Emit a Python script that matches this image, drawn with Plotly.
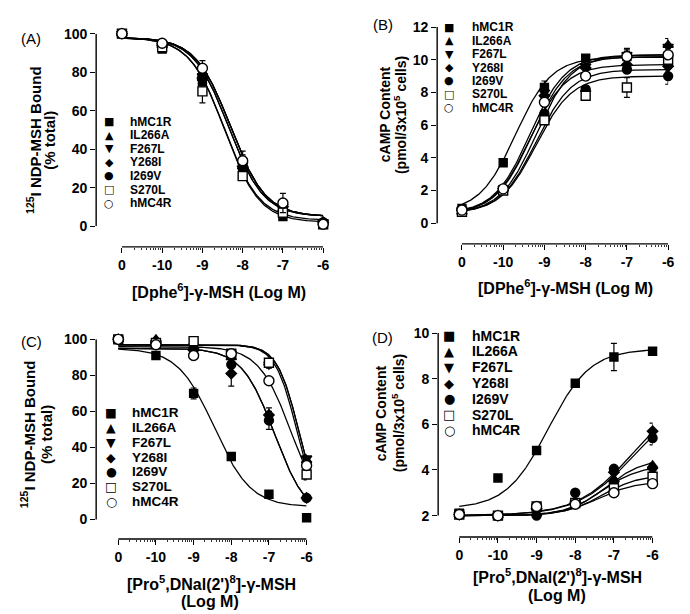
import numpy as np
import plotly.graph_objects as go

W, H = 690, 614

# ---------------- data ----------------
SERIES = ["hMC1R", "IL266A", "F267L", "Y268I", "I269V", "S270L", "hMC4R"]
LOG_CONC = [-11, -10, -9, -8, -7, -6]          # "0" plotted at the -11 slot
X_TICK_VALS = [-11, -10, -9, -8, -7, -6]
X_TICK_TEXT = ["0", "-10", "-9", "-8", "-7", "-6"]

# Panel A: 125I NDP-MSH bound (% total) vs [DPhe6]-gamma-MSH
A_VALUES = [
    [100, 92, 75, 30, 5, 1],
    [100, 94, 77, 31, 9, 2],
    [100, 94, 78, 32, 10, 2],
    [100, 94, 77, 31, 10, 2],
    [100, 94, 78, 31, 11, 2],
    [100, 93, 70, 26, 7, 1],
    [100, 95, 82, 34, 12, 1],
]
A_ERRORS = [
    [0, 1, 2, 2, 1, 0],
    [0, 0, 0, 0, 0, 0],
    [0, 0, 0, 5, 3, 0],
    [0, 0, 0, 0, 0, 0],
    [0, 0, 0, 0, 0, 0],
    [0, 0, 6, 0, 0, 0],
    [0, 1, 4, 5, 5, 0],
]
A_TOP = [98, 98, 98, 98, 98, 98, 98]
A_BOTTOM = [3, 5, 5, 5, 5, 2, 5]
A_LOGEC50 = [-8.45, -8.35, -8.3, -8.35, -8.3, -8.45, -8.3]
A_HILL = [-1.0, -1.0, -1.0, -1.0, -1.0, -1.0, -1.0]
A_YTICKS = [0, 20, 40, 60, 80, 100]

# Panel B: cAMP content vs [DPhe6]-gamma-MSH
B_VALUES = [
    [0.9, 3.7, 8.3, 10.1, 10.2, 10.2],
    [0.7, 2.1, 6.5, 8.2, 10.3, 10.9],
    [0.8, 2.1, 8.0, 9.6, 10.3, 10.8],
    [0.8, 2.1, 7.8, 9.5, 9.7, 9.6],
    [0.8, 2.1, 6.7, 8.2, 9.4, 9.0],
    [0.7, 2.0, 6.3, 7.8, 8.3, 10.0],
    [0.8, 2.1, 7.4, 9.0, 10.2, 10.3],
]
B_ERRORS = [
    [0, 0, 0.4, 0.1, 0.2, 0.3],
    [0, 0, 0, 0, 0.4, 0.4],
    [0, 0, 0.3, 0, 0.3, 0.5],
    [0, 0, 0, 0, 0, 0.3],
    [0, 0, 0, 0, 0, 0.5],
    [0, 0, 0, 0, 0.6, 0.4],
    [0, 0, 0, 0, 0.3, 0.3],
]
B_TOP = [10.15, 10.3, 10.3, 9.7, 9.4, 9.0, 10.2]
B_BOTTOM = [0.7, 0.6, 0.6, 0.6, 0.6, 0.6, 0.6]
B_LOGEC50 = [-9.7, -9.2, -9.35, -9.35, -9.2, -9.2, -9.3]
B_HILL = [1.0, 1.0, 1.0, 1.0, 1.0, 1.0, 1.0]
B_YTICKS = [0, 2, 4, 6, 8, 10, 12]

# Panel C: 125I NDP-MSH bound (% total) vs [Pro5,DNal(2')8]-gamma-MSH
C_VALUES = [
    [100, 91, 70, 35, 14, 1],
    [100, 100, 96, 90, 87, 33],
    [100, 98, 96, 92, 86, 34],
    [100, 98, 94, 81, 58, 12],
    [100, 98, 91, 86, 55, 12],
    [100, 98, 99, 92, 87, 25],
    [100, 97, 91, 92, 77, 30],
]
C_ERRORS = [
    [0, 1, 3, 1, 1, 0],
    [0, 0, 0, 0, 0, 2],
    [0, 0, 0, 0, 2, 2],
    [0, 0, 0, 7, 4, 0],
    [0, 0, 0, 0, 5, 0],
    [0, 0, 0, 0, 0, 3],
    [0, 0, 0, 0, 0, 0],
]
C_TOP = [95, 97, 97, 95, 95, 97, 96]
C_BOTTOM = [7, 0, 0, 0, 0, 0, 0]
C_LOGEC50 = [-8.45, -6.2, -6.2, -6.85, -6.85, -6.25, -6.4]
C_HILL = [-0.9, -1.5, -1.5, -1.0, -1.0, -1.5, -1.0]
C_YTICKS = [0, 20, 40, 60, 80, 100]

# Panel D: cAMP content vs [Pro5,DNal(2')8]-gamma-MSH
D_VALUES = [
    [2.1, 3.65, 4.85, 7.8, 8.95, 9.2],
    [2.05, 2.0, 2.1, 2.55, 3.6, 4.2],
    [2.05, 2.0, 2.2, 2.55, 3.4, 4.0],
    [2.05, 2.0, 2.3, 2.55, 3.9, 5.7],
    [2.05, 2.0, 2.0, 3.0, 4.05, 5.4],
    [2.05, 2.0, 2.4, 2.55, 3.2, 3.7],
    [2.05, 2.0, 2.4, 2.5, 3.0, 3.4],
]
D_ERRORS = [
    [0, 0, 0.1, 0.1, 0.6, 0.1],
    [0, 0, 0, 0, 0, 0.1],
    [0, 0, 0, 0, 0, 0],
    [0, 0, 0, 0, 0, 0.35],
    [0, 0, 0, 0, 0.1, 0.3],
    [0, 0, 0, 0, 0.15, 0.15],
    [0, 0, 0, 0, 0, 0],
]
D_TOP = [9.3, 4.5, 4.2, 7.5, 7.2, 3.8, 3.5]
D_BOTTOM = [2.3, 2.0, 2.0, 2.0, 2.0, 2.0, 2.0]
D_LOGEC50 = [-8.7, -7.2, -7.3, -6.5, -6.5, -7.3, -7.4]
D_HILL = [0.8, 0.9, 0.9, 0.6, 0.6, 0.9, 0.9]
D_YTICKS = [2, 4, 6, 8, 10]

# ---------------- styles ----------------
FONT = "Liberation Sans, Arial, Helvetica, sans-serif"
MARKERS = [
    dict(symbol="square", color="black", size=8),
    dict(symbol="triangle-up", color="black", size=9),
    dict(symbol="triangle-down", color="black", size=9),
    dict(symbol="diamond", color="black", size=8),
    dict(symbol="circle", color="black", size=9),
    dict(symbol="square", color="white", size=9),
    dict(symbol="circle", color="white", size=10),
]
GLYPHS = ["■", "▲", "▼", "◆", "●", "□", "○"]


def px(x):
    return x / W


def py(y):
    return 1 - y / H


# panel geometry in pixels
PANELS = [
    dict(key="A", values=A_VALUES, errors=A_ERRORS,
         fit=(A_TOP, A_BOTTOM, A_LOGEC50, A_HILL), yticks=A_YTICKS,
         ax_left=97, x0=123, x1=326, ytop=26, ybot=221, xaxis=242,
         leg_sym=110, leg_txt=129, leg_rows=(115, 13.8), leg_size=12),
    dict(key="B", values=B_VALUES, errors=B_ERRORS,
         fit=(B_TOP, B_BOTTOM, B_LOGEC50, B_HILL), yticks=B_YTICKS,
         ax_left=441, x0=466, x1=674, ytop=19.3, ybot=218, xaxis=239,
         leg_sym=453, leg_txt=474, leg_rows=(19.5, 13.6), leg_size=12),
    dict(key="C", values=C_VALUES, errors=C_ERRORS,
         fit=(C_TOP, C_BOTTOM, C_LOGEC50, C_HILL), yticks=C_YTICKS,
         ax_left=97, x0=119.3, x1=309.3, ytop=335.7, ybot=518.3, xaxis=538,
         leg_sym=112, leg_txt=131, leg_rows=(410, 15), leg_size=13.5),
    dict(key="D", values=D_VALUES, errors=D_ERRORS,
         fit=(D_TOP, D_BOTTOM, D_LOGEC50, D_HILL), yticks=D_YTICKS,
         ax_left=442, x0=463.3, x1=658.3, ytop=329.3, ybot=514.3, xaxis=536,
         leg_sym=453, leg_txt=474, leg_rows=(332, 16), leg_size=14),
]

fig = go.Figure()
annotations = []
shapes = []
xgrid = np.linspace(-11, -6, 250)

minor_vals = [d + np.log10(k) for d in range(-11, -6) for k in range(2, 10)]

for i, p in enumerate(PANELS):
    n = "" if i == 0 else str(i + 1)
    xa, ya = "x" + n, "y" + n
    ymin, ymax = p["yticks"][0], p["yticks"][-1]
    step = (p["x1"] - p["x0"]) / 5.0
    xleft = -11 - (p["x0"] - p["ax_left"]) / step
    upp = (ymax - ymin) / (p["ybot"] - p["ytop"])
    ylow = ymin - (p["xaxis"] - p["ybot"]) * upp

    fig.layout["xaxis" + n] = dict(
        domain=[px(p["ax_left"]), px(p["x1"])], range=[xleft, -6],
        anchor=ya, showline=False, showgrid=False, zeroline=False,
        tickmode="array", tickvals=X_TICK_VALS, ticktext=X_TICK_TEXT,
        ticks="outside", ticklen=5, tickwidth=1.3, tickcolor="black",
        tickfont=dict(family=FONT, size=14, color="black", weight="bold"),
        minor=dict(tickmode="array", tickvals=minor_vals, ticks="outside",
                   ticklen=2, tickwidth=0.8, tickcolor="#333"),
    )
    fig.layout["yaxis" + n] = dict(
        domain=[py(p["xaxis"]), py(p["ytop"])], range=[ylow, ymax],
        anchor=xa, showline=False, showgrid=False, zeroline=False,
        tickmode="array", tickvals=p["yticks"],
        ticks="outside", ticklen=5, tickwidth=1.3, tickcolor="black",
        tickfont=dict(family=FONT, size=14, color="black", weight="bold"),
    )
    # axis lines (Prism-style offset axes)
    shapes.append(dict(type="line", xref=xa, yref=ya + " domain",
                       x0=-11, x1=-6, y0=0, y1=0,
                       line=dict(color="black", width=1.4)))
    shapes.append(dict(type="line", xref=xa + " domain", yref=ya,
                       x0=0, x1=0, y0=ymin, y1=ymax,
                       line=dict(color="black", width=1.4)))

    top, bottom, logec, hill = p["fit"]
    # fitted curves
    for s in range(len(SERIES)):
        yfit = bottom[s] + (top[s] - bottom[s]) / (
            1 + 10 ** ((logec[s] - xgrid) * hill[s]))
        fig.add_trace(go.Scatter(
            x=xgrid, y=yfit, mode="lines", xaxis=xa, yaxis=ya,
            line=dict(color="black", width=1.3), cliponaxis=False,
            showlegend=False, hoverinfo="skip"))
    # data points
    for s, name in enumerate(SERIES):
        m = MARKERS[s]
        fig.add_trace(go.Scatter(
            x=LOG_CONC, y=p["values"][s], mode="markers", name=name,
            xaxis=xa, yaxis=ya, cliponaxis=False, showlegend=False,
            error_y=dict(type="data", array=p["errors"][s], visible=True,
                         color="black", thickness=1.2, width=3),
            marker=dict(symbol=m["symbol"], size=m["size"], color=m["color"],
                        line=dict(color="black", width=1.4))))

    # legend (text-based)
    r0, dr = p["leg_rows"]
    for s, name in enumerate(SERIES):
        yrow = r0 + s * dr
        annotations.append(dict(
            x=px(p["leg_sym"]), y=py(yrow), xref="paper", yref="paper",
            text=GLYPHS[s], showarrow=False, xanchor="center", yanchor="middle",
            font=dict(family="DejaVu Sans", size=p["leg_size"] - 1, color="black")))
        annotations.append(dict(
            x=px(p["leg_txt"]), y=py(yrow), xref="paper", yref="paper",
            text=name, showarrow=False, xanchor="left", yanchor="middle",
            font=dict(family=FONT, size=p["leg_size"], color="black", weight="bold")))


def ann(x, y, text, size=15, angle=0, weight="bold"):
    annotations.append(dict(
        x=px(x), y=py(y), xref="paper", yref="paper", text=text,
        showarrow=False, xanchor="center", yanchor="middle", textangle=angle,
        font=dict(family=FONT, size=size, color="black", weight=weight)))


# panel labels
ann(31, 31, "(A)", 15, weight="normal")
ann(386, 17, "(B)", 15, weight="normal")
ann(32, 338, "(C)", 15, weight="normal")
ann(386, 334, "(D)", 15, weight="normal")

# y-axis titles
ann(34, 134, "<sup>125</sup>I NDP-MSH Bound", 15, -90)
ann(50, 134, "(% total)", 15, -90)
ann(388, 108, "cAMP Content", 14, -90)
ann(403, 108, "(pmol/3x10<sup>5</sup> cells)", 14, -90)
ann(28, 432, "<sup>125</sup>I NDP-MSH Bound", 15, -90)
ann(47, 432, "(% total)", 15, -90)
ann(384, 411, "cAMP Content", 14, -90)
ann(401, 411, "(pmol/3x10<sup>5</sup> cells)", 14, -90)

# x-axis titles
ann(221, 287, "[Dphe<sup>6</sup>]-γ-MSH (Log M)", 16)
ann(570, 283, "[DPhe<sup>6</sup>]-γ-MSH (Log M)", 16)
ann(213, 583, "[Pro<sup>5</sup>,DNal(2')<sup>8</sup>]-γ-MSH", 16)
ann(212, 601, "(Log M)", 16)
ann(562, 575, "[Pro<sup>5</sup>,DNal(2')<sup>8</sup>]-γ-MSH", 16)
ann(562, 595, "(Log M)", 16)

fig.update_layout(
    width=W, height=H, margin=dict(l=0, r=0, t=0, b=0),
    paper_bgcolor="white", plot_bgcolor="white",
    font=dict(family=FONT, color="black"),
    showlegend=False, annotations=annotations, shapes=shapes,
)

fig.write_html("out.html", config={"displayModeBar": False},
               post_script="document.body.style.margin='0';")
